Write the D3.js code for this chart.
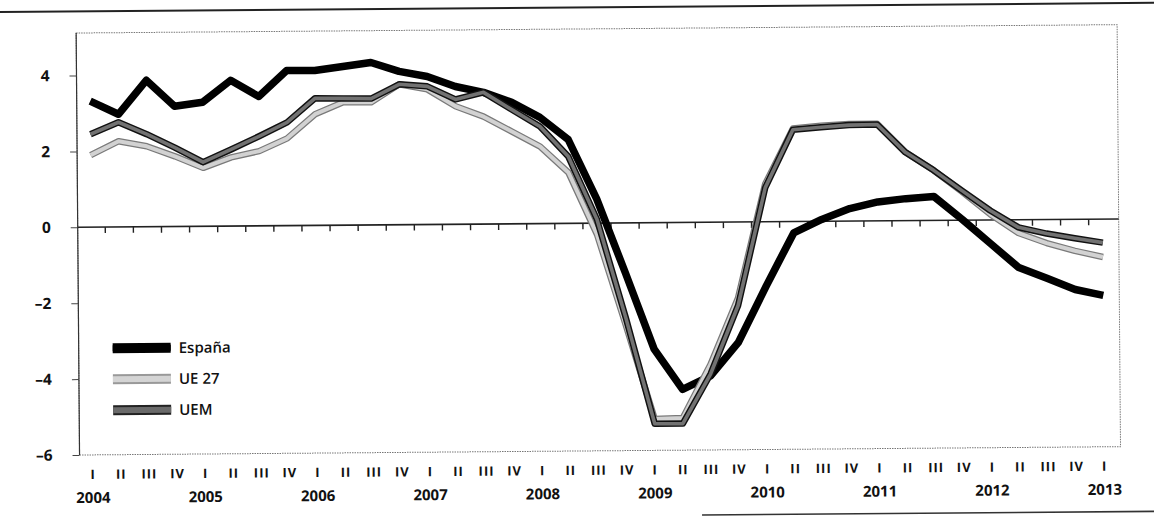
<!DOCTYPE html>
<html>
<head>
<meta charset="utf-8">
<script src="https://cdnjs.cloudflare.com/ajax/libs/d3/7.8.5/d3.min.js"></script>
<style>
	body { margin: 0; background: #fff; }
	svg { display: block; }
</style>
</head>
<body>
<div id="chart"></div>
<script>
var width = 1154;
var height = 522;

// 数据：2004 I - 2013 I，季度
var years = ["2004", "2005", "2006", "2007", "2008", "2009", "2010", "2011", "2012", "2013"];
var quarterNames = ["I", "II", "III", "IV"];
var yTicks = [4, 2, 0, -2, -4, -6];

var espana = [3.32, 2.97, 3.86, 3.17, 3.27, 3.84, 3.41, 4.09, 4.08, 4.18, 4.28, 4.04,
	3.9, 3.63, 3.47, 3.2, 2.8, 2.21, 0.63, -1.32, -3.33, -4.4, -4.05, -3.17,
	-1.7, -0.3, 0.05, 0.33, 0.5, 0.58, 0.63, 0.02, -0.62, -1.26, -1.55, -1.85, -2.01];
var ue27 = [1.9, 2.26, 2.12, 1.85, 1.54, 1.81, 1.97, 2.3, 2.93, 3.24, 3.23, 3.7,
	3.56, 3.11, 2.83, 2.43, 2.03, 1.34, -0.3, -2.7, -5.17, -5.15, -3.75, -2.0,
	1.0, 2.45, 2.52, 2.56, 2.56, 1.8, 1.32, 0.75, 0.15, -0.35, -0.62, -0.83, -1.0];
var uem = [2.45, 2.76, 2.44, 2.08, 1.69, 2.02, 2.36, 2.72, 3.35, 3.34, 3.33, 3.7,
	3.64, 3.29, 3.47, 3.01, 2.56, 1.76, 0.1, -2.5, -5.3, -5.3, -4.0, -2.2,
	0.9, 2.42, 2.48, 2.53, 2.54, 1.8, 1.32, 0.78, 0.25, -0.2, -0.37, -0.5, -0.62];

var legendNames = ["España", "UE 27", "UEM"];

// 季度类别
var quarters = [];
years.forEach(function(yr) {
	quarterNames.forEach(function(q) {
		if (quarters.length < espana.length) quarters.push(yr + " " + q);
	});
});

var fontFamily = "'Open Sans', 'DejaVu Sans', sans-serif";

var svg = d3.select("#chart")
	.append("svg")
	.attr("width", width)
	.attr("height", height)
	.style("font-family", fontFamily);

// 扫描件稍有倾斜
var g = svg.append("g")
	.attr("transform", "rotate(-0.46, 577, 261)");

var plotLeft = 78, plotRight = 1119;

var x = d3.scalePoint()
	.domain(quarters)
	.range([91.5, 1103]);
var step = x.step();

var y = d3.scaleLinear()
	.domain([-6, 5.12])
	.range([451, 29]);

// 上下横线
g.append("line")
	.attr("x1", -10).attr("x2", width + 10)
	.attr("y1", 7.5).attr("y2", 7.5)
	.attr("stroke", "#222")
	.attr("stroke-width", 2);
g.append("line")
	.attr("x1", 700).attr("x2", width + 10)
	.attr("y1", 516).attr("y2", 516)
	.attr("stroke", "#333")
	.attr("stroke-width", 1.6);

// 绘图框
g.append("rect")
	.attr("x", plotLeft)
	.attr("y", y(5.12))
	.attr("width", plotRight - plotLeft)
	.attr("height", y(-6) - y(5.12))
	.attr("fill", "none")
	.attr("stroke", "#777")
	.attr("stroke-width", 1)
	.attr("stroke-dasharray", "1.5,1");
g.append("line")
	.attr("x1", plotLeft).attr("x2", plotLeft)
	.attr("y1", y(5.12)).attr("y2", y(-6))
	.attr("stroke", "#333")
	.attr("stroke-width", 1.2);

// y 轴
var yAxis = g.append("g")
	.attr("transform", `translate(${plotLeft},0)`)
	.call(d3.axisLeft(y)
		.tickValues(yTicks)
		.tickSize(7)
		.tickPadding(20)
		.tickFormat(function(d) { return d < 0 ? "\u2013" + Math.abs(d) : d; }));
yAxis.select(".domain").remove();
yAxis.selectAll(".tick line").attr("stroke", "#444");
yAxis.selectAll(".tick text")
	.attr("font-size", 15.5)
	.attr("font-weight", 700)
	.attr("fill", "#111")
	.attr("font-family", fontFamily);

// 零线及季度刻度
g.append("line")
	.attr("x1", plotLeft).attr("x2", plotRight)
	.attr("y1", y(0)).attr("y2", y(0))
	.attr("stroke", "#222")
	.attr("stroke-width", 1.6);
g.append("g")
	.selectAll("line")
	.data(quarters.slice(0, -1))
	.join("line")
	.attr("x1", (d) => x(d) + step / 2)
	.attr("x2", (d) => x(d) + step / 2)
	.attr("y1", y(0))
	.attr("y2", y(0) + 6)
	.attr("stroke", "#222")
	.attr("stroke-width", 1.4);

// x 轴文字
g.append("g")
	.selectAll("text")
	.data(quarters)
	.join("text")
	.attr("x", (d) => x(d))
	.attr("y", 475)
	.attr("text-anchor", "middle")
	.attr("font-size", 13)
	.attr("font-weight", 700)
	.attr("letter-spacing", 1)
	.attr("fill", "#111")
	.text((d) => d.split(" ")[1]);

g.append("g")
	.selectAll("text")
	.data(years)
	.join("text")
	.attr("x", (d) => x(d + " I"))
	.attr("y", 499)
	.attr("text-anchor", "middle")
	.attr("font-size", 15)
	.attr("font-weight", 700)
	.attr("fill", "#111")
	.text((d) => d);

// 折线
var line = d3.line()
	.x((d, i) => x(quarters[i]))
	.y((d) => y(d));

function drawSeries(values, outer, inner, wOuter, wInner) {
	g.append("path")
		.datum(values)
		.attr("d", line)
		.attr("fill", "none")
		.attr("stroke", outer)
		.attr("stroke-width", wOuter)
		.attr("stroke-linejoin", "round");
	if (inner) {
		g.append("path")
			.datum(values)
			.attr("d", line)
			.attr("fill", "none")
			.attr("stroke", inner)
			.attr("stroke-width", wInner)
			.attr("stroke-linejoin", "round");
	}
}

drawSeries(espana, "#000", null, 7.5);
drawSeries(ue27, "#7a7a7a", "#d2d2d2", 6.5, 4);
drawSeries(uem, "#111", "#727272", 6.5, 3.6);

// 图例
var legendY = [344.5, 375.5, 406.5];
var swatch = [
	{ outer: "#000", inner: "#000" },
	{ outer: "#999", inner: "#d4d4d4" },
	{ outer: "#222", inner: "#6a6a6a" }
];
var legend = g.append("g")
	.selectAll("g")
	.data(legendNames)
	.join("g")
	.attr("transform", (d, i) => `translate(112,${legendY[i]})`);
legend.append("rect")
	.attr("x", 0)
	.attr("y", -5)
	.attr("width", 58)
	.attr("height", 10)
	.attr("fill", (d, i) => swatch[i].outer);
legend.append("rect")
	.attr("x", 0)
	.attr("y", -3)
	.attr("width", 58)
	.attr("height", 6)
	.attr("fill", (d, i) => swatch[i].inner);
legend.append("text")
	.attr("x", 66)
	.attr("y", 0)
	.attr("dy", "0.35em")
	.attr("font-size", 15)
	.attr("font-weight", 600)
	.attr("fill", "#111")
	.text((d) => d);
</script>
</body>
</html>
